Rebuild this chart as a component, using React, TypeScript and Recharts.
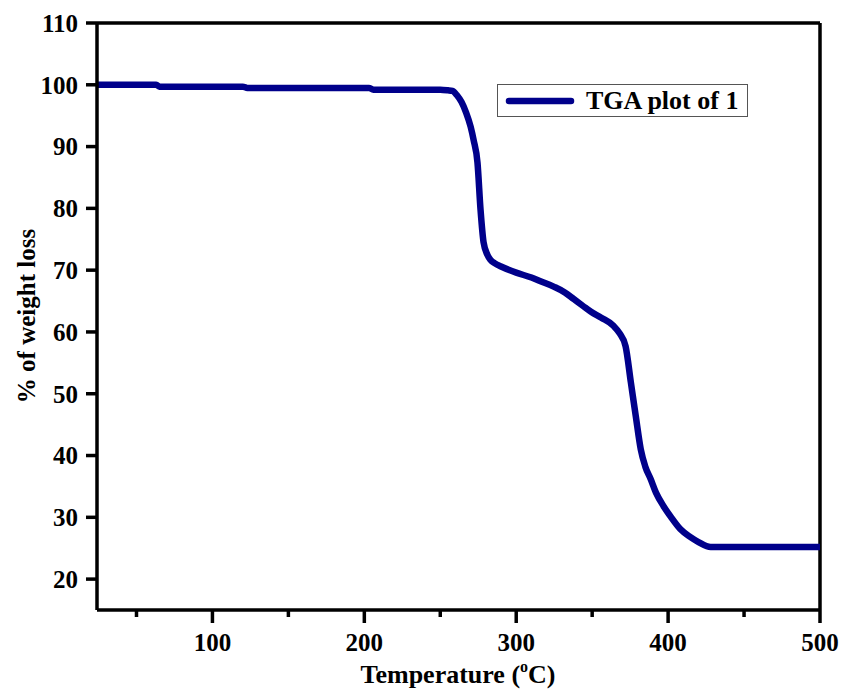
import React from 'react';
import { LineChart, Line, XAxis, YAxis, ReferenceLine, Label } from 'recharts';

// TGA trace (temperature in °C, % weight remaining)
const temperatures = [
  24, 63, 65, 120, 123, 203, 206, 250, 255, 258, 261, 264, 267, 270, 272, 274.5,
  276.5, 278.5, 281, 283, 286, 290, 300, 310, 316, 325, 332, 338, 344, 349, 356,
  364, 368, 372, 375.5, 378.7, 382, 385, 388.5, 392, 397, 402, 408, 414, 420, 428,
  440, 500,
];
const weights = [
  100, 100, 99.7, 99.7, 99.5, 99.5, 99.2, 99.2, 99.1, 99.0, 98.3, 97.2, 95.5, 93.2, 91.0, 87.4,
  79.8, 74.5, 72.5, 71.7, 71.1, 70.6, 69.6, 68.8, 68.2, 67.3, 66.4, 65.3, 64.2, 63.3, 62.3,
  61.0, 59.8, 57.7, 51.8, 46.4, 41.0, 38.2, 36.2, 34.0, 31.8, 30.0, 28.1, 26.9, 26.0, 25.2,
  25.2, 25.2,
];

const xTicks = [50, 100, 150, 200, 250, 300, 350, 400, 450, 500];
const yTicks = [20, 30, 40, 50, 60, 70, 80, 90, 100, 110];
const seriesName = 'TGA plot of 1';

const data = temperatures.map((t, i) => ({ temp: t, weight: weights[i] }));

const FONT = '"Liberation Serif", "Times New Roman", serif';
const NAVY = '#00008b';

const XTick = (props: any) => {
  const { x, y, payload } = props;
  const major = payload.value % 100 === 0;
  return (
    <g>
      <line x1={x} x2={x} y1={y} y2={y + (major ? 13 : 7)} stroke="#000" strokeWidth={3.5} />
      {major && (
        <text x={x} y={y + 41} textAnchor="middle" fontFamily={FONT} fontWeight="bold" fontSize={25} fill="#000">
          {payload.value}
        </text>
      )}
    </g>
  );
};

// legend drawn as an overlay so it doesn't eat into the plot area
const LegendBox = () => (
  <div
    style={{
      position: 'absolute',
      left: 497,
      top: 84,
      width: 249,
      height: 31,
      border: '1px solid #555',
      background: '#fff',
      display: 'flex',
      alignItems: 'center',
      fontFamily: FONT,
      fontWeight: 'bold',
      fontSize: 26,
      color: '#000',
    }}
  >
    <svg width={88} height={31}>
      <line x1={11} x2={73} y1={16} y2={16} stroke={NAVY} strokeWidth={6.5} strokeLinecap="round" />
    </svg>
    <span style={{ lineHeight: '31px' }}>{seriesName}</span>
  </div>
);

export default function App() {
  return (
    <div style={{ position: 'absolute', left: 0, top: 0, width: 842, height: 689, background: '#fff' }}>
      <LineChart width={842} height={689} data={data} margin={{ top: 23, right: 22, left: 0, bottom: 0 }}>
        <XAxis
          dataKey="temp"
          type="number"
          domain={[24, 500]}
          ticks={xTicks}
          interval={0}
          height={79}
          axisLine={{ stroke: '#000', strokeWidth: 3.5 }}
          tickLine={false}
          tickSize={0}
          tickMargin={0}
          tick={<XTick />}
          allowDataOverflow
        >
          <Label
            content={() => (
              <text x={458} y={683} textAnchor="middle" fontFamily={FONT} fontWeight="bold" fontSize={26} fill="#000">
                Temperature (
                <tspan fontSize={16} dy={-11}>o</tspan>
                <tspan dy={11}>C)</tspan>
              </text>
            )}
          />
        </XAxis>
        <YAxis
          type="number"
          domain={[15, 110]}
          ticks={yTicks}
          interval={0}
          width={97}
          axisLine={{ stroke: '#000', strokeWidth: 3.5 }}
          tickLine={{ stroke: '#000', strokeWidth: 3.5 }}
          tickSize={11}
          tickMargin={8}
          tick={{ fontFamily: FONT, fontWeight: 'bold', fontSize: 25, fill: '#000' }}
          allowDataOverflow
        >
          <Label
            content={() => (
              <text
                x={0}
                y={0}
                transform="translate(35, 316) rotate(-90)"
                textAnchor="middle"
                fontFamily={FONT}
                fontWeight="bold"
                fontSize={25}
                fill="#000"
              >
                % of weight loss
              </text>
            )}
          />
        </YAxis>
        <ReferenceLine x={500} stroke="#000" strokeWidth={3.5} />
        <ReferenceLine y={110} stroke="#000" strokeWidth={3.5} />
        <Line
          type="monotone"
          dataKey="weight"
          name={seriesName}
          stroke={NAVY}
          strokeWidth={6.5}
          strokeLinecap="round"
          strokeLinejoin="round"
          dot={false}
          activeDot={false}
          isAnimationActive={false}
        />
      </LineChart>
      <LegendBox />
    </div>
  );
}
